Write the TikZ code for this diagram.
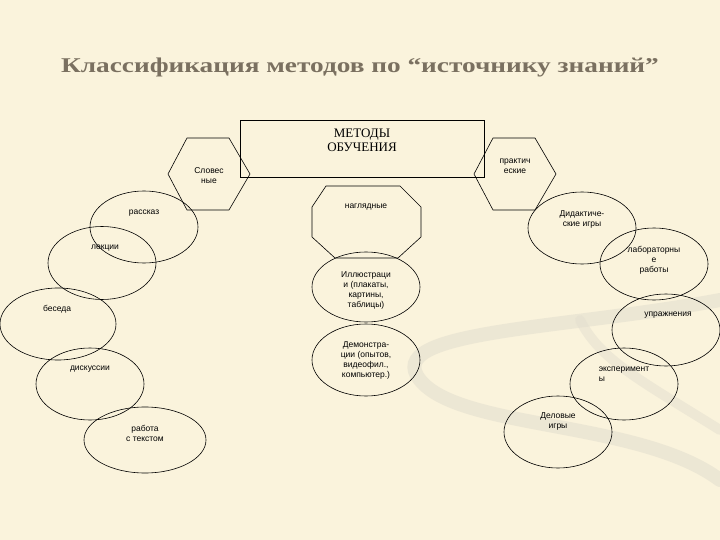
\documentclass[tikz,border=0pt]{standalone}
\usepackage{fontspec}
\setmainfont{Liberation Serif}
\newfontfamily\sm{Liberation Sans}
\usetikzlibrary{shapes.geometric}
\definecolor{bg}{HTML}{FAF3DC}
\definecolor{swirl}{HTML}{E4DFCF}
\definecolor{ttl}{HTML}{7A7060}
\begin{document}
\begin{tikzpicture}[x=1pt,y=-1pt,
  el/.style={ellipse,draw,line width=0.6pt,minimum width=#1,inner sep=0},
  lbl/.style={font=\sm\fontsize{8.5}{10}\selectfont,align=center},
  ln/.style={line width=0.6pt}]
\fill[bg] (0,0) rectangle (720,540);
\useasboundingbox (0,0) rectangle (720,540);
% swirl
\draw[swirl,line width=14pt,opacity=0.6,line cap=round] (720,300) .. controls (560,330) and (380,330) .. (420,380) .. controls (460,430) and (640,420) .. (720,480);
\draw[swirl,line width=10pt,opacity=0.5,line cap=round] (580,320) .. controls (600,360) and (640,380) .. (720,430);
\node[font=\bfseries\fontsize{21}{24}\selectfont,text=ttl,xscale=1.3] (title) at (360,67) {Классификация методов по “источнику знаний”};
\node[draw,ln,minimum width=244pt,minimum height=57pt,inner sep=0] (box) at (362,148.5) {};
\node[font=\fontsize{13}{14}\selectfont,align=center] (boxt) at (362,140) {МЕТОДЫ\\ОБУЧЕНИЯ};
% hexagons
\draw[ln] (168,174) -- (187,138) -- (229,138) -- (250,174) -- (229,210) -- (187,210) -- cycle;
\node[lbl] (slov) at (209,176) {Словес\\ные};
\draw[ln] (474,174) -- (493,138) -- (535,138) -- (556,174) -- (535,210) -- (493,210) -- cycle;
\node[lbl] (prak) at (515,166) {практич\\еские};
% octagon
\draw[ln] (326,186) -- (400,186) -- (421,207) -- (421,237) -- (398,258) -- (335,258) -- (312,237) -- (312,207) -- cycle;
\node[lbl] (nagl) at (366,207) {наглядные};
% left ellipses
\node[el=108pt,minimum height=72pt] (r1) at (144,227) {};
\node[lbl] at (144,213) {рассказ};
\node[el=108pt,minimum height=73pt] (r2) at (102,263) {};
\node[lbl] at (105,248) {лекции};
\node[el=116pt,minimum height=72pt] (r3) at (58,324) {};
\node[lbl] at (57,309) {беседа};
\node[el=108pt,minimum height=72pt] (r4) at (90,384) {};
\node[lbl] at (90,369) {дискуссии};
\node[el=122pt,minimum height=66pt] (r5) at (145,440) {};
\node[lbl] at (145,433) {работа\\с текстом};
% middle
\node[el=108pt,minimum height=70pt] (m1) at (366,287) {};
\node[lbl] at (366,290) {Иллюстраци\\и (плакаты,\\картины,\\таблицы)};
\node[el=108pt,minimum height=72pt] (m2) at (366,360) {};
\node[lbl] at (366,360) {Демонстра-\\ции (опытов,\\видеофил.,\\компьютер.)};
% right
\node[el=108pt,minimum height=72pt] (p1) at (582,228) {};
\node[lbl] at (582,219) {Дидактиче-\\ские игры};
\node[el=108pt,minimum height=72pt] (p2) at (654,264) {};
\node[lbl] at (654,260) {лабораторны\\е\\работы};
\node[el=108pt,minimum height=72pt] (p3) at (666,330) {};
\node[lbl] at (668,315) {упражнения};
\node[el=108pt,minimum height=72pt] (p4) at (624,384) {};
\node[lbl,align=left] at (624,374) {эксперимент\\ы};
\node[el=108pt,minimum height=72pt] (p5) at (558,432) {};
\node[lbl] at (558,421) {Деловые\\игры};
\end{tikzpicture}
\end{document}
